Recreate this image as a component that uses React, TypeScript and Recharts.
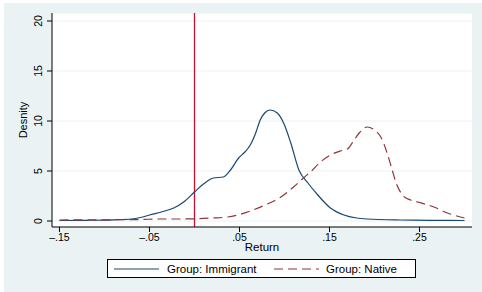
import React from 'react';
import { LineChart, Line, XAxis, YAxis, CartesianGrid, ReferenceLine } from 'recharts';

// kernel density estimates
const immigrantReturn = [
	-0.15, -0.12, -0.09, -0.07, -0.06, -0.05, -0.035, -0.023, -0.012, 0, 0.01, 0.021, 0.032, 0.04, 0.049, 0.056,
	0.062, 0.068, 0.073, 0.078, 0.084, 0.092, 0.099, 0.107, 0.116, 0.126, 0.137, 0.151, 0.166, 0.18, 0.192, 0.229,
	0.26, 0.3,
];
const immigrantDensity = [
	0.05, 0.07, 0.12, 0.2, 0.35, 0.6, 0.95, 1.3, 1.9, 2.9, 3.7, 4.3, 4.4, 5.1, 6.3, 6.9, 7.6, 8.8, 10.1, 10.8, 11.1,
	10.8, 9.8, 7.8, 5.1, 3.8, 2.6, 1.3, 0.6, 0.3, 0.2, 0.1, 0.07, 0.05,
];
const nativeReturn = [
	-0.15, -0.1, -0.06, -0.04, -0.02, 0, 0.02, 0.037, 0.048, 0.062, 0.081, 0.096, 0.11, 0.121, 0.13, 0.14, 0.151,
	0.162, 0.17, 0.176, 0.183, 0.192, 0.2, 0.207, 0.214, 0.219, 0.224, 0.232, 0.24, 0.248, 0.266, 0.281, 0.3,
];
const nativeDensity = [
	0.1, 0.12, 0.15, 0.2, 0.2, 0.22, 0.3, 0.4, 0.6, 1.0, 1.7, 2.4, 3.4, 4.3, 5.0, 5.9, 6.6, 7.0, 7.2, 7.9, 8.8, 9.4,
	9.1, 8.4, 6.8, 5.3, 3.8, 2.5, 2.1, 1.9, 1.4, 0.8, 0.3,
];
const xTicks = [-0.15, -0.05, 0.05, 0.15, 0.25];
const yTicks = [0, 5, 10, 15, 20];

const immigrantData = immigrantReturn.map((x, i) => ({ x, y: immigrantDensity[i] }));
const nativeData = nativeReturn.map((x, i) => ({ x, y: nativeDensity[i] }));

const FONT = '"Liberation Sans", Arial, Helvetica, sans-serif';
const BLUE = '#1a476f';
const RED = '#90353b';

const fmtX = (v: number) => {
	const s = Math.abs(v).toFixed(2).replace(/^0/, '');
	return v < 0 ? '\u2013' + s : s;
};

const YTick = (props: any) => {
	const { x, y, payload } = props;
	const bx = x - 3;
	return (
		<text x={bx} y={y} transform={`rotate(-90 ${bx} ${y})`} textAnchor="middle" fontSize={10.5} fill="#000" fontFamily={FONT}>
			{payload.value}
		</text>
	);
};

const YLabel = (props: any) => {
	const vb = props.viewBox;
	const tx = vb.x + 15;
	const ty = vb.y + vb.height / 2;
	return (
		<text x={tx} y={ty} transform={`rotate(-90 ${tx} ${ty})`} textAnchor="middle" fontSize={11} fill="#000" fontFamily={FONT}>
			Desnity
		</text>
	);
};

const XLabel = (props: any) => {
	const vb = props.viewBox;
	return (
		<text x={vb.x + vb.width / 2} y={vb.y + 24} textAnchor="middle" fontSize={11.5} fill="#000" fontFamily={FONT}>
			Return
		</text>
	);
};

export default function App() {
	return (
		<div style={{ position: 'absolute', left: 0, top: 0, width: 482, height: 292, background: '#fff', fontFamily: FONT }}>
			<div style={{ position: 'absolute', left: 4, top: 3, right: 0, bottom: 0, background: '#eaf2f3' }} />
			<div style={{ position: 'absolute', left: 0, top: 0 }}>
				<LineChart width={482} height={292} margin={{ top: 13, right: 10, left: 12, bottom: 35 }}>
					<CartesianGrid vertical={false} stroke="#eaf2f3" fill="#fff" />
					<XAxis
						type="number"
						dataKey="x"
						domain={[-0.1583, 0.3083]}
						ticks={xTicks}
						allowDataOverflow
						tickFormatter={fmtX}
						tickSize={5}
						height={30}
						stroke="#000"
						tick={{ fontSize: 10.5, fill: '#000', fontFamily: FONT }}
						label={XLabel}
					/>
					<YAxis
						type="number"
						domain={[-0.6, 20.8]}
						ticks={yTicks}
						allowDataOverflow
						tickSize={5}
						width={40}
						stroke="#000"
						tick={YTick}
						label={YLabel}
					/>
					<ReferenceLine x={0} stroke="#c8102e" strokeWidth={1.3} />
					<Line data={immigrantData} dataKey="y" type="monotone" stroke={BLUE} strokeWidth={1.2} dot={false} isAnimationActive={false} />
					<Line data={nativeData} dataKey="y" type="monotone" stroke={RED} strokeWidth={1.2} strokeDasharray="9 5" dot={false} isAnimationActive={false} />
				</LineChart>
			</div>
			<div
				style={{
					position: 'absolute',
					left: 107,
					top: 259,
					width: 307,
					height: 17,
					border: '1px solid #000',
					background: '#fff',
					display: 'flex',
					alignItems: 'center',
					fontSize: 11.5,
					color: '#000',
				}}
			>
				<svg width={45} height={4} style={{ marginLeft: 6 }}>
					<line x1={0} y1={2} x2={45} y2={2} stroke={BLUE} strokeWidth={1.2} />
				</svg>
				<span style={{ marginLeft: 8, width: 107 }}>Group: Immigrant</span>
				<svg width={45} height={4}>
					<line x1={0} y1={2} x2={45} y2={2} stroke={RED} strokeWidth={1.2} strokeDasharray="9 5" />
				</svg>
				<span style={{ marginLeft: 7 }}>Group: Native</span>
			</div>
		</div>
	);
}
